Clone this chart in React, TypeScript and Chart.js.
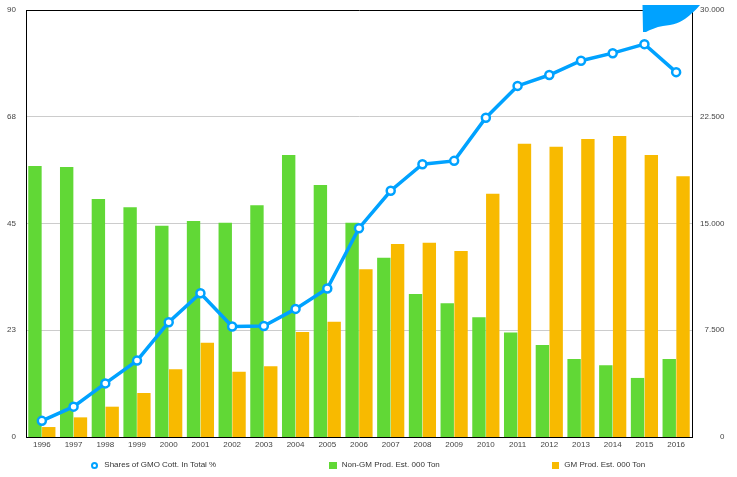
import React, { useEffect, useRef } from "react";
import { Chart, registerables } from "chart.js";

Chart.register(...registerables);

const years = ["1996", "1997", "1998", "1999", "2000", "2001", "2002", "2003", "2004", "2005", "2006", "2007", "2008", "2009", "2010", "2011", "2012", "2013", "2014", "2015", "2016"];
const gmoShare = [3.4, 6.4, 11.3, 16.1, 24.2, 30.3, 23.3, 23.4, 27.0, 31.3, 44.0, 51.9, 57.5, 58.2, 67.3, 74.0, 76.3, 79.3, 80.9, 82.8, 76.9];
const nonGmProd = [19040, 18970, 16720, 16140, 14850, 15180, 15060, 16280, 19810, 17710, 15060, 12600, 10050, 9390, 8410, 7350, 6460, 5480, 5040, 4150, 5480];
const gmProd = [700, 1380, 2130, 3090, 4760, 6630, 4590, 4970, 7380, 8100, 11780, 13560, 13650, 13070, 17090, 20610, 20400, 20940, 21150, 19810, 18320];
const seriesLabels = ["Shares of GMO Cott. In Total %", "Non-GM Prod. Est. 000 Ton", "GM Prod. Est. 000 Ton"];
const leftMax = 90;
const leftStep = 22.5;
const rightMax = 30000;
const rightStep = 7500;

const BLUE = "#00A2FF";
const GREEN = "#61D836";
const ORANGE = "#F8BA00";
const FONT = "'Liberation Sans', Arial, Helvetica, sans-serif";
const TEXT = "#444444";

function fmtThousands(v: number): string {
  const s = Math.round(v).toString();
  return s.replace(/\B(?=(\d{3})+(?!\d))/g, ".");
}

const blobPlugin = {
  id: "cornerBlob",
  afterDraw(chart: any) {
    const { ctx, chartArea } = chart;
    const r = chartArea.right;
    const t = chartArea.top;
    ctx.save();
    ctx.fillStyle = BLUE;
    ctx.beginPath();
    ctx.moveTo(r - 49.5, t - 5);
    ctx.lineTo(r + 8, t - 5);
    ctx.quadraticCurveTo(r + 3, t + 1, r - 0.5, t + 3.5);
    ctx.bezierCurveTo(r - 6, t + 9, r - 12, t + 13, r - 22, t + 15);
    ctx.lineTo(r - 29, t + 16);
    ctx.bezierCurveTo(r - 36, t + 17, r - 42, t + 20, r - 46, t + 22);
    ctx.lineTo(r - 49, t + 22);
    ctx.closePath();
    ctx.fill();
    ctx.restore();
  },
};

export default function App() {
  const ref = useRef<HTMLCanvasElement | null>(null);

  useEffect(() => {
    if (!ref.current) return;
    const chart = new Chart(ref.current, {
      type: "bar",
      data: {
        labels: years,
        datasets: [
          {
            type: "line",
            label: seriesLabels[0],
            data: gmoShare,
            yAxisID: "y",
            borderColor: BLUE,
            borderWidth: 3.5,
            backgroundColor: "#ffffff",
            pointBackgroundColor: "#ffffff",
            pointBorderColor: BLUE,
            pointBorderWidth: 2.5,
            pointRadius: 4,
            tension: 0,
            order: 0,
          } as any,
          {
            type: "bar",
            label: seriesLabels[1],
            data: nonGmProd,
            yAxisID: "y1",
            backgroundColor: GREEN,
            borderWidth: 0,
            categoryPercentage: 0.87,
            barPercentage: 0.97,
            order: 1,
          },
          {
            type: "bar",
            label: seriesLabels[2],
            data: gmProd,
            yAxisID: "y1",
            backgroundColor: ORANGE,
            borderWidth: 0,
            categoryPercentage: 0.87,
            barPercentage: 0.97,
            order: 1,
          },
        ],
      },
      options: {
        animation: false,
        responsive: true,
        maintainAspectRatio: false,
        layout: { padding: { left: 7, right: 12.5, top: 10, bottom: 24.4 } },
        plugins: {
          legend: { display: false },
          tooltip: { enabled: false },
        },
        scales: {
          x: {
            offset: true,
            grid: { display: false, drawTicks: false },
            border: { display: true, color: "#000000", width: 1 },
            ticks: {
              color: TEXT,
              font: { family: FONT, size: 8 },
              padding: 3,
              maxRotation: 0,
              autoSkip: false,
            },
          },
          y: {
            position: "left",
            min: 0,
            max: leftMax,
            afterFit: (s: any) => {
              s.width = 19;
              s.paddingTop = 0;
              s.paddingBottom = 0;
            },
            grid: {
              drawTicks: false,
              color: (c: any) => {
                const v = c.tick ? c.tick.value : 0;
                if (v === leftMax) return "#000000";
                if (v === 0) return "rgba(0,0,0,0)";
                return "#cccccc";
              },
              lineWidth: 1,
            },
            border: { display: true, color: "#000000", width: 1 },
            ticks: {
              stepSize: leftStep,
              color: TEXT,
              font: { family: FONT, size: 8 },
              padding: 10,
              callback: (v: any) => String(Math.round(Number(v))),
            },
          },
          y1: {
            position: "right",
            min: 0,
            max: rightMax,
            afterFit: (s: any) => {
              s.width = 32.5;
              s.paddingTop = 0;
              s.paddingBottom = 0;
            },
            grid: { display: false, drawTicks: false },
            border: { display: true, color: "#000000", width: 1 },
            ticks: {
              stepSize: rightStep,
              color: TEXT,
              font: { family: FONT, size: 8 },
              padding: 8,
              crossAlign: "far",
              callback: (v: any) => fmtThousands(Number(v)),
            },
          },
        },
      } as any,
      plugins: [blobPlugin],
    });
    return () => chart.destroy();
  }, []);

  const textStyle: React.CSSProperties = {
    position: "absolute",
    top: 460,
    fontFamily: FONT,
    fontSize: 8,
    lineHeight: "10px",
    color: "#333333",
    whiteSpace: "nowrap",
  };

  return (
    <div style={{ position: "fixed", left: 0, top: 0, width: 737, height: 477, background: "#ffffff" }}>
      <div style={{ position: "absolute", left: 0, top: 0, width: 737, height: 477 }}>
        <canvas ref={ref} />
      </div>
      <span
        style={{
          position: "absolute",
          left: 90.8,
          top: 461.8,
          width: 7,
          height: 7,
          boxSizing: "border-box",
          border: `2px solid ${BLUE}`,
          borderRadius: "50%",
          background: "#ffffff",
        }}
      />
      <span style={{ ...textStyle, left: 104.3 }}>{seriesLabels[0]}</span>
      <span style={{ position: "absolute", left: 329.3, top: 462, width: 7.4, height: 7, background: GREEN }} />
      <span style={{ ...textStyle, left: 341.7 }}>{seriesLabels[1]}</span>
      <span style={{ position: "absolute", left: 551.7, top: 462, width: 7.2, height: 7, background: ORANGE }} />
      <span style={{ ...textStyle, left: 564.3 }}>{seriesLabels[2]}</span>
    </div>
  );
}
